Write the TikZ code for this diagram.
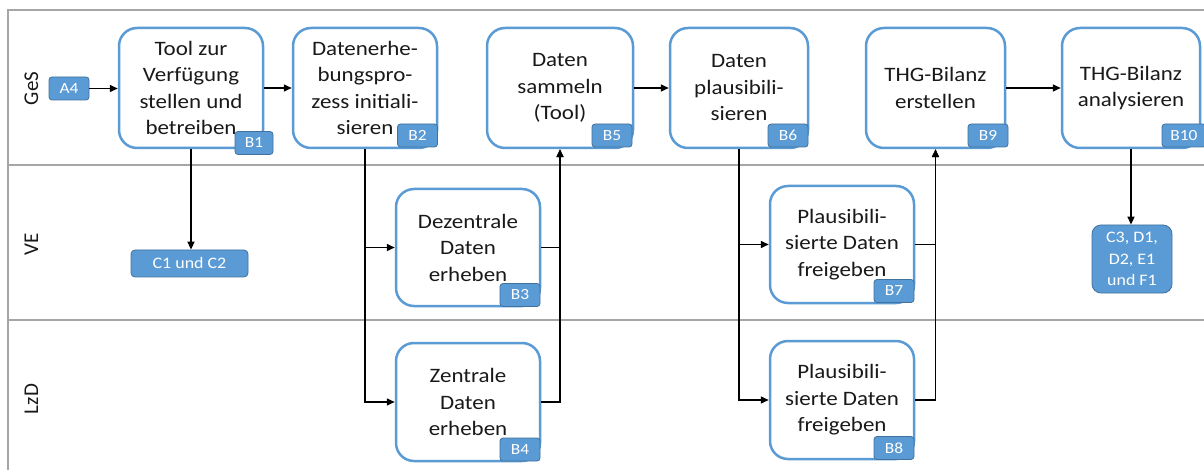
\documentclass[tikz,border=0pt]{standalone}
\usepackage{fontspec}
\setmainfont{Carlito}[FakeStretch=1.12]
\newfontfamily\plainfont{Carlito}
\usetikzlibrary{arrows.meta}
\definecolor{boxblue}{HTML}{5B9BD5}
\definecolor{tagborder}{HTML}{41719C}
\definecolor{lanegray}{HTML}{A6A6A6}
\begin{document}
\begin{tikzpicture}[x=1pt,y=-1pt,
  proc/.style={draw=boxblue, line width=2.5pt, rounded corners=18pt, fill=white,
    align=center, inner sep=0pt, font=\fontsize{20.5}{26.5}\selectfont, text=black!90},
  tag/.style={fill=boxblue, draw=tagborder, line width=0.8pt, rounded corners=3pt,
    text=white, font=\fontsize{15.5}{18}\selectfont, minimum width=40pt, minimum height=23pt, inner sep=0pt},
  outbox/.style={fill=boxblue, draw=tagborder, line width=0.8pt, text=white, align=center,
    inner sep=0pt, font=\fontsize{16}{21.5}\selectfont},
  lane/.style={draw=lanegray, line width=2pt},
  lanelabel/.style={rotate=90, font=\plainfont\fontsize{21}{24}\selectfont, text=black!90},
  arr/.style={draw=black, line width=1.5pt, -{Triangle[length=8pt,width=7pt]}}
]
\useasboundingbox (0,0) rectangle (1204,470);
% lanes
\draw[lane] (1204,10) -- (8,10) -- (8,470);
\draw[lane] (8,165) -- (1204,165);
\draw[lane] (8,320) -- (1204,320);
\node[lanelabel] (ges) at (31.5,88.5) {GeS};
\node[lanelabel] (ve) at (31.5,244.5) {VE};
\node[lanelabel] (lzd) at (31.5,399) {LzD};

% process boxes
\node[proc, minimum width=144pt, minimum height=120pt] (b1) at (191,88) {Tool zur\\Verfügung\\stellen und\\betreiben};
\node[proc, minimum width=144pt, minimum height=120pt] (b2) at (365,88) {Datenerhe-\\bungspro-\\zess initiali-\\sieren};
\node[proc, minimum width=146pt, minimum height=120pt] (b5) at (560,88) {Daten\\sammeln\\(Tool)};
\node[proc, minimum width=138pt, minimum height=120pt] (b6) at (739,88) {Daten\\plausibili-\\sieren};
\node[proc, minimum width=139pt, minimum height=120pt] (b9) at (935.5,88) {THG-Bilanz\\erstellen};
\node[proc, minimum width=138pt, minimum height=120pt] (b10) at (1131,88) {THG-Bilanz\\analysieren};
\node[proc, minimum width=144pt, minimum height=117pt] (b3) at (468,247.5) {Dezentrale\\Daten\\erheben};
\node[proc, minimum width=144pt, minimum height=118pt] (b4) at (468,402) {Zentrale\\Daten\\erheben};
\node[proc, minimum width=144pt, minimum height=117pt] (b7) at (842,244.5) {Plausibili-\\sierte Daten\\freigeben};
\node[proc, minimum width=144pt, minimum height=118pt] (b8) at (842,400) {Plausibili-\\sierte Daten\\freigeben};

% tags
\node[tag, minimum width=38pt] (tb1) at (254,143) {B1};
\node[tag] (tb2) at (417.5,135.5) {B2};
\node[tag] (tb5) at (612,135.5) {B5};
\node[tag] (tb6) at (788,135.5) {B6};
\node[tag] (tb9) at (988,135.5) {B9};
\node[tag, minimum width=44pt] (tb10) at (1184,135.5) {B10};
\node[tag] (tb3) at (520,295) {B3};
\node[tag] (tb4) at (520,449.5) {B4};
\node[tag] (tb7) at (894,291) {B7};
\node[tag] (tb8) at (894,448) {B8};
\node[tag] (a4) at (69,88.5) {A4};

% outputs
\node[outbox, rounded corners=4pt, minimum width=117pt, minimum height=27pt] (c12) at (189.5,263.5) {C1 und C2};
\node[outbox, rounded corners=9pt, minimum width=80pt, minimum height=68pt] (c3) at (1132,259) {C3, D1,\\D2, E1\\und F1};

% connectors
\draw[arr] (a4.east) -- (b1.west |- a4.east);
\draw[arr] (b1.east) -- (b2.west);
\draw[arr] (b5.east) -- (b6.west);
\draw[arr] (b9.east) -- (b10.west);
\draw[arr] (b1.south) -- (b1.south |- c12.north);
\draw[arr] (b2.south) |- (b3.west);
\draw[arr] (b2.south) |- (b4.west);
\draw[arr] (b3.east) -| (b5.south);
\draw[arr] (b4.east) -| (b5.south);
\draw[arr] (b6.south) |- (b7.west);
\draw[arr] (b6.south) |- (b8.west);
\draw[arr] (b7.east) -| (b9.south);
\draw[arr] (b8.east) -| (b9.south);
\draw[arr] (b10.south) -- (b10.south |- c3.north);
\end{tikzpicture}
\end{document}
